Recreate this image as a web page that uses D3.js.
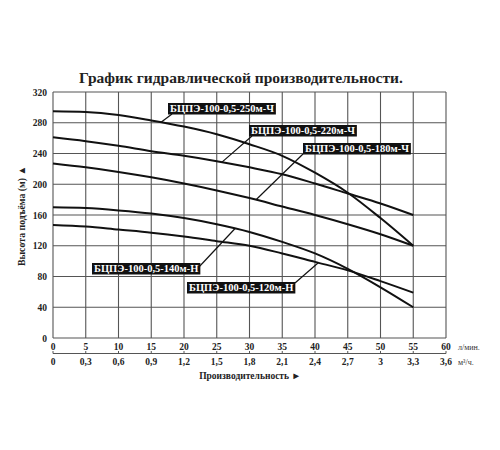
<!DOCTYPE html>
<html><head><meta charset="utf-8">
<script src="https://cdn.jsdelivr.net/npm/d3@7"></script>
<style>body{margin:0;background:#fff}svg{display:block}</style>
</head><body>
<svg id="c" width="500" height="450"></svg>
<script>
const flow = [0,5,10,15,20,25,30,35,40,45,50,55];
const s250 = [295,294,290,283,275,265,252,237,215,189,156,120];
const s220 = [261,256,250,243,237,230,222,213,201,188,175,160];
const s180 = [227,222,216,209,201,192,182,171,160,148,135,120];
const s140 = [170,169,166,162,156,148,138,125,110,90,66,40];
const s120 = [147,145,141,137,132,126,120,110,99,88,74,59];
const seriesNames = ["БЦПЭ-100-0,5-250м-Ч","БЦПЭ-100-0,5-220м-Ч","БЦПЭ-100-0,5-180м-Ч","БЦПЭ-100-0,5-140м-Н","БЦПЭ-100-0,5-120м-Н"];
const xTicks = [0,5,10,15,20,25,30,35,40,45,50,55,60];
const xTicks2 = ["0","0,3","0,6","0,9","1,2","1,5","1,8","2,1","2,4","2,7","3","3,3","3,6"];
const yTicks = [0,40,80,120,160,200,240,280,320];
const title = "График гидравлической производительности.";

const svg = d3.select("#c");
const L=53, R=446, T=92, B=338;
const x = d3.scaleLinear().domain([0,60]).range([L,R]);
const y = d3.scaleLinear().domain([0,320]).range([B,T]);
const serif = "'Liberation Serif','DejaVu Serif',serif";

svg.append("text").attr("x",241).attr("y",83).attr("text-anchor","middle")
  .attr("font-family",serif).attr("font-weight","bold").attr("font-size",15.5).attr("fill","#222").text(title);

const g = svg.append("g");
g.selectAll(".vg").data(xTicks).enter().append("line")
  .attr("x1",d=>x(d)).attr("x2",d=>x(d)).attr("y1",T).attr("y2",B)
  .attr("stroke","#555").attr("stroke-width",1.1);
g.selectAll(".hg").data(yTicks).enter().append("line")
  .attr("x1",L).attr("x2",R).attr("y1",d=>y(d)).attr("y2",d=>y(d))
  .attr("stroke","#555").attr("stroke-width",1.1);

// y tick labels
g.selectAll(".yl").data(yTicks).enter().append("text")
  .attr("x",47).attr("y",d=>y(d)+3.5).attr("text-anchor","end")
  .attr("font-family",serif).attr("font-weight","bold").attr("font-size",9.5).attr("fill","#222").text(d=>d);

// x tick labels row 1
g.selectAll(".xl").data(xTicks).enter().append("text")
  .attr("x",d=>x(d)).attr("y",350).attr("text-anchor","middle")
  .attr("font-family",serif).attr("font-weight","bold").attr("font-size",9.5).attr("fill","#222").text(d=>d);
// axis line between rows
g.append("line").attr("x1",L).attr("x2",R).attr("y1",353.5).attr("y2",353.5).attr("stroke","#555").attr("stroke-width",1);
g.selectAll(".xt").data(xTicks).enter().append("line")
  .attr("x1",d=>x(d)).attr("x2",d=>x(d)).attr("y1",351).attr("y2",353.5).attr("stroke","#555");
g.selectAll(".xl2").data(xTicks).enter().append("text")
  .attr("x",d=>x(d)).attr("y",365).attr("text-anchor","middle")
  .attr("font-family",serif).attr("font-weight","bold").attr("font-size",9.5).attr("fill","#222").text((d,i)=>xTicks2[i]);
g.append("text").attr("x",458).attr("y",350).attr("font-family",serif).attr("font-size",8).attr("fill","#333").text("л/мин.");
g.append("text").attr("x",458).attr("y",365).attr("font-family",serif).attr("font-size",8).attr("fill","#333").text("м³/ч.");

// axis titles
g.append("text").attr("x",250).attr("y",379).attr("text-anchor","middle")
  .attr("font-family",serif).attr("font-weight","bold").attr("font-size",9.5).attr("fill","#222").text("Производительность ►");
g.append("text").attr("transform","translate(25,216) rotate(-90)").attr("text-anchor","middle")
  .attr("font-family",serif).attr("font-weight","bold").attr("font-size",9.8).attr("fill","#222").text("Высота подъёма (м) ▲");

// curves
const all = [s250,s220,s180,s140,s120];
const line = d3.line().x((d,i)=>x(flow[i])).y(d=>y(d)).curve(d3.curveMonotoneX);
g.selectAll(".crv").data(all).enter().append("path")
  .attr("d",d=>line(d)).attr("fill","none").attr("stroke","#111").attr("stroke-width",2);

// labels with leader lines to the curves
const labels = [
  {i:0, bx:168, by:103, lx:172, ly:114, f:16.5},
  {i:1, bx:249, by:125, lx:252, ly:136, f:25.8},
  {i:2, bx:303, by:143, lx:303, ly:154, f:31},
  {i:3, bx:92,  by:263, lx:198, ly:268, f:27.8},
  {i:4, bx:187, by:282, lx:295, ly:283, f:40.5}
];
labels.forEach(lb=>{
  const interp = d3.scaleLinear().domain(flow).range(all[lb.i]);
  g.append("line").attr("x1",lb.lx).attr("y1",lb.ly).attr("x2",x(lb.f)).attr("y2",y(interp(lb.f)))
    .attr("stroke","#111").attr("stroke-width",1.2);
  const t = g.append("text").attr("x",lb.bx+2).attr("y",lb.by+9)
    .attr("font-family",serif).attr("font-weight","bold").attr("font-size",10.5).attr("fill","#fff").text(seriesNames[lb.i]);
  const w = t.node().getComputedTextLength();
  g.insert("rect", () => t.node()).attr("x",lb.bx).attr("y",lb.by).attr("width",w+4).attr("height",11.5).attr("fill","#111");
});
</script>
</body></html>
